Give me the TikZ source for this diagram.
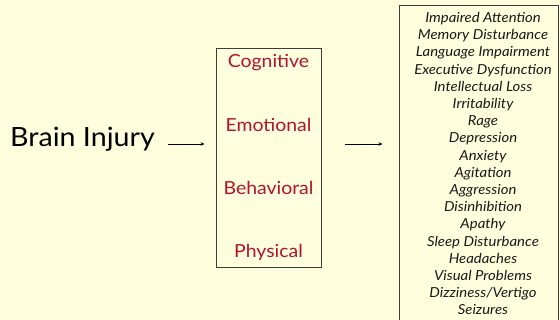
\documentclass[tikz,border=0pt]{standalone}
\usepackage{fontspec}
\setmainfont{Lato}[FakeStretch=1.08]
\usetikzlibrary{arrows.meta}
\definecolor{bgyellow}{RGB}{255,255,222}
\definecolor{catred}{RGB}{178,18,48}
\definecolor{boxline}{RGB}{60,60,60}
\tikzset{
  boxframe/.style={draw=boxline, line width=0.9pt, fill=none, inner sep=0pt},
  catlabel/.style={text=catred, font=\fontsize{18}{20}\selectfont, anchor=base, inner sep=0pt},
  symptom/.style={font=\fontsize{13.8}{15}\selectfont\itshape, anchor=base, inner sep=0pt, text=black!90},
  arr/.style={-{Stealth[length=4pt,width=3.5pt]}, line width=0.8pt}
}
\begin{document}
\begin{tikzpicture}[x=1pt,y=-1pt]
\useasboundingbox (0,0) rectangle (560,320);
\fill[bgyellow] (0,0) rectangle (560,320);
\clip (0,0) rectangle (560,320);
\node[anchor=base west, inner sep=0pt, font=\fontsize{26.5}{30}\selectfont] (brain) at (10,147) {Brain Injury};
\node[boxframe, minimum width=105pt, minimum height=219pt] (mid) at (268.5,157.5) {};
\node[boxframe, minimum width=159pt, minimum height=330pt] (list) at (478.5,170) {};
\node[catlabel] (cog) at (268.5,68) {Cognitive};
\node[catlabel] (emo) at (268.5,131.5) {Emotional};
\node[catlabel] (beh) at (268.5,195) {Behavioral};
\node[catlabel] (phy) at (268.5,258) {Physical};
\foreach \t [count=\i from 0] in {Impaired Attention,Memory Disturbance,Language Impairment,Executive Dysfunction,Intellectual Loss,Irritability,Rage,Depression,Anxiety,Agitation,Aggression,Disinhibition,Apathy,Sleep Disturbance,Headaches,Visual Problems,Dizziness/Vertigo,Seizures}{
  \node[symptom] (s\i) at (483,22.6+17.2*\i) {\t};
}
\coordinate (ay) at (0,144);
\draw[arr, shorten <=13pt, shorten >=11pt] (brain.east |- ay) -- (mid.west |- ay);
\draw[arr, shorten <=24pt, shorten >=16pt] (mid.east |- ay) -- (list.west |- ay);
\end{tikzpicture}
\end{document}
